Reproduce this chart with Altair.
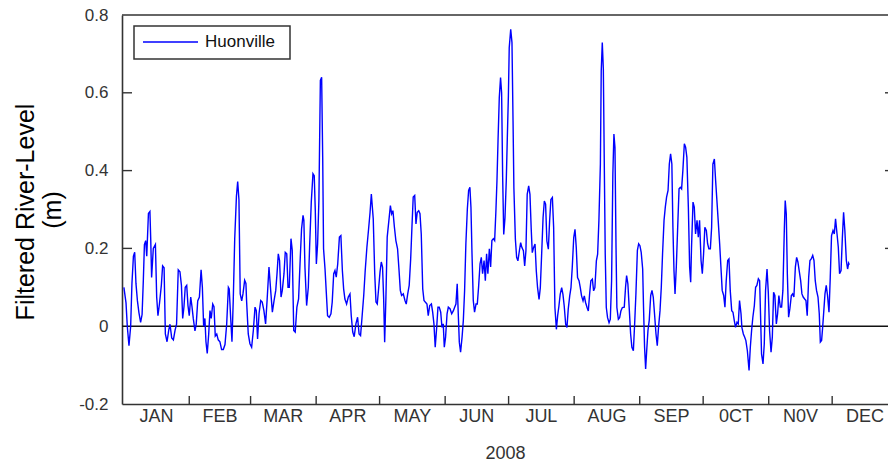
import altair as alt
import pandas as pd

# Filtered river level at Huonville, 2008 (day 0 = 1 January)
day = [
    0.1, 1.1, 1.7, 2.5, 3.3, 3.9, 4.6, 5.2, 5.8, 6.5, 7.2, 8.0, 8.7, 9.3, 9.8, 10.4, 10.9, 11.7, 12.4, 12.8,
    13.2, 14.0, 15.0, 15.6, 16.2, 16.9, 17.8, 18.4, 19.1, 19.7, 20.5, 21.3, 21.9, 22.7, 23.5, 24.3, 25.0, 25.8,
    26.6, 27.3, 27.9, 28.5, 29.1, 29.8, 30.4, 31.0, 31.7, 32.3, 32.9, 33.7, 34.3, 35.0, 35.8, 36.6, 37.2, 37.8,
    38.4, 38.9, 39.5, 40.2, 40.8, 41.4, 42.1, 42.7, 43.3, 44.0, 44.7, 45.5, 46.3, 47.1, 47.9, 48.7, 49.5, 49.9,
    50.6, 51.2, 51.8, 52.5, 53.3, 53.9, 54.5, 55.1, 55.8, 56.4, 57.2, 57.8,
    58.1, 58.9, 59.7, 60.5, 61.3, 62.1, 62.7, 63.3, 64.0, 64.8, 65.5, 66.3, 67.1, 67.8, 68.7, 69.5, 70.3, 71.1,
    71.9, 72.5, 73.1, 73.7, 74.4, 75.0, 75.8, 76.4, 77.1, 77.7, 78.3, 79.1, 79.7, 80.4, 81.1, 81.9, 82.7, 83.5,
    84.1, 84.8, 85.2, 85.7, 86.5, 87.3, 87.9, 88.7, 89.5, 90.1, 90.6, 91.1, 91.7, 92.3, 93.0, 93.6, 94.1, 94.5,
    95.2, 95.8, 96.4, 97.2, 98.0, 98.6, 99.3, 99.9, 100.5, 101.2, 102.0, 102.7, 103.4, 104.0, 104.6, 105.4,
    106.2, 107.0, 107.6, 108.3, 109.0, 109.8, 110.6, 111.3, 112.0, 112.7, 113.5, 114.2, 115.0, 115.8, 116.5,
    117.1,
    118.0, 118.7, 119.3, 119.9, 120.6, 121.2, 121.8, 122.4, 122.9, 123.4, 124.0, 124.6, 125.4, 126.1, 126.7,
    127.3, 128.0, 128.7, 129.5, 130.2, 130.8, 131.4, 132.2, 133.0, 133.6, 134.3, 135.0, 135.7, 136.3, 136.9,
    137.6, 138.2, 138.8, 139.5, 140.1, 140.7, 141.4, 142.0, 142.6, 143.4, 144.0, 144.7, 145.5, 146.1, 146.7,
    147.3, 148.0, 148.6, 149.2, 149.9, 150.5, 151.1, 151.6, 152.2, 152.9, 153.5, 154.3, 155.1, 155.9, 156.5,
    157.1, 157.7, 158.2, 158.7, 159.3, 160.0, 160.6, 161.2, 161.8, 162.5, 163.1, 163.7, 164.2, 164.7, 165.3,
    165.9, 166.6, 167.2, 167.8, 168.5, 169.1, 169.7, 170.4, 171.0, 171.6, 172.2, 172.9, 173.5, 174.1, 174.8,
    175.4, 176.0,
    176.5, 177.0, 177.6, 178.2, 178.7, 179.2, 179.7, 180.3, 180.9, 181.4, 181.9, 182.3, 183.0, 183.6, 184.1,
    184.5, 185.2, 185.8, 186.4, 187.1, 187.7, 188.3, 189.0, 189.6, 190.2, 190.8, 191.5, 192.1, 192.7, 193.2,
    193.8, 194.5, 195.1, 195.7, 196.4, 197.0, 197.6, 198.3, 198.9, 199.5, 200.1, 200.8, 201.4, 202.0, 202.7,
    203.3, 203.9, 204.6, 205.2, 205.8, 206.4, 207.1, 207.7, 208.3, 209.0, 209.6, 210.2, 210.9, 211.5, 212.1,
    212.8, 213.4, 214.0, 214.6, 215.3, 215.9, 216.5, 217.2, 217.8, 218.4, 219.1, 219.7, 220.3, 220.9, 221.6,
    222.2, 222.8, 223.5, 224.1, 224.7, 225.4, 225.8, 226.3, 226.8, 227.2, 227.7, 228.2, 228.8, 229.5, 230.1,
    230.7, 231.3, 231.8, 232.3, 232.8, 233.2, 233.9, 234.5, 235.1, 235.8,
    236.7, 237.3, 237.8, 238.4, 239.1, 239.7, 240.3, 241.0, 241.6, 242.2, 242.9, 243.5, 244.1, 244.7, 245.4,
    245.8, 246.3, 246.8, 247.3, 247.9, 248.5, 249.2, 249.8, 250.4, 251.0, 251.7, 252.3, 252.9, 253.6, 254.2,
    254.8, 255.5, 256.1, 256.7, 257.4, 258.0, 258.6, 259.2, 259.7, 260.2, 260.7, 261.3, 261.9, 262.6, 263.2,
    263.8, 264.4, 265.1, 265.7, 266.3, 267.0, 267.6, 268.1, 268.5, 269.2, 269.8, 270.4, 271.1, 271.7, 272.3,
    273.0, 273.6, 274.2, 274.8, 275.5, 276.1, 276.7, 277.4, 278.0, 278.6, 279.3, 279.9, 280.5, 281.1, 281.8,
    282.4, 283.0, 283.7, 284.3, 284.9, 285.6, 286.2, 286.8, 287.5, 288.1, 288.7, 289.3, 290.0, 290.6, 291.2,
    291.9, 292.3, 293.0, 293.6, 294.2, 294.9,
    295.7, 296.3, 296.9, 297.5, 298.2, 298.8, 299.4, 300.1, 300.7, 301.2, 301.6, 302.3, 302.9, 303.5, 304.2,
    304.8, 305.4, 306.1, 306.7, 307.3, 307.9, 308.6, 309.2, 309.8, 310.5, 311.1, 311.7, 312.4, 312.8, 313.3,
    313.8, 314.4, 315.0, 315.7, 316.3, 316.9, 317.6, 318.2, 318.8, 319.4, 320.1, 320.7, 321.3, 322.0, 322.6,
    323.2, 323.9, 324.5, 325.1, 325.8, 326.4, 327.0, 327.6, 328.3, 328.9, 329.4, 330.0, 330.5, 331.0, 331.6,
    332.2, 332.8, 333.5, 334.1, 334.7, 335.4, 336.0, 336.6, 337.3, 337.9, 338.5, 339.2, 339.8, 340.4, 341.0,
    341.7, 342.3, 342.8, 343.1,
]
level = [
    0.10, 0.06, 0.0, -0.05, 0.0, 0.11, 0.18, 0.19, 0.11, 0.065, 0.035, 0.01, 0.03, 0.12, 0.21, 0.22, 0.18, 0.29, 0.295, 0.22,
    0.125, 0.20, 0.21, 0.075, 0.027, 0.057, 0.105, 0.155, 0.15, -0.02, -0.04, -0.01, 0.005, -0.03, -0.035, -0.01, 0.005, 0.145,
    0.14, 0.105, 0.02, 0.05, 0.10, 0.105, 0.053, 0.027, 0.075, 0.05, 0.02, -0.012, 0.005, 0.065, 0.075, 0.145, 0.10, 0.0,
    0.02, -0.04, -0.07, -0.02, 0.04, 0.02, 0.057, 0.05, -0.025, -0.02, -0.035, -0.04, -0.06, -0.06, -0.047, 0.005, 0.10, 0.096,
    0.02, -0.04, 0.065, 0.225, 0.333, 0.372, 0.325, 0.083, 0.065, 0.083, 0.118, 0.11,
    0.066, -0.02, -0.045, -0.054, -0.011, 0.049, 0.04, -0.033, 0.032, 0.066, 0.062, 0.04, 0.006, 0.066, 0.152, 0.092, 0.036, 0.066,
    0.092, 0.135, 0.186, 0.169, 0.075, 0.092, 0.135, 0.19, 0.186, 0.10, 0.10, 0.225, 0.195, -0.011, -0.015, 0.049, 0.07, 0.177,
    0.25, 0.285, 0.272, 0.152, 0.053, 0.10, 0.203, 0.319, 0.392, 0.387, 0.297, 0.16, 0.212, 0.323, 0.632, 0.64, 0.434, 0.199,
    0.147, 0.087, 0.027, 0.023, 0.032, 0.062, 0.135, 0.143, 0.126, 0.16, 0.229, 0.233, 0.143, 0.096, 0.07, 0.057,
    0.075, 0.083, 0.027, -0.015, -0.027, 0.006, 0.023, -0.02, -0.024, 0.023, 0.079, 0.143, 0.203, 0.25, 0.293,
    0.34,
    0.276, 0.135, 0.062, 0.057, 0.10, 0.139, 0.165, 0.152, 0.075, -0.041, 0.075, 0.229, 0.272, 0.31, 0.289,
    0.297, 0.255, 0.22, 0.199, 0.143, 0.092, 0.079, 0.083, 0.066, 0.057, 0.083, 0.105, 0.173, 0.255, 0.332,
    0.336, 0.263, 0.293, 0.297, 0.289, 0.237, 0.096, 0.066, 0.062, 0.057, 0.027, 0.053, 0.057, 0.036, 0.006,
    -0.054, -0.003, 0.049, 0.049, 0.036, -0.003, 0.006, -0.054, -0.028, 0.032, 0.049, 0.045, 0.032, 0.04, 0.049,
    0.057, 0.109, 0.032, -0.041, -0.067, -0.028, 0.015, 0.092, 0.212, 0.302, 0.349, 0.357, 0.306, 0.186, 0.066,
    0.036, 0.057, 0.057, 0.10, 0.16, 0.177, 0.135, 0.169, 0.117, 0.186, 0.135, 0.199, 0.152, 0.22, 0.225,
    0.22, 0.296,
    0.374, 0.476, 0.588, 0.639, 0.60, 0.382, 0.236, 0.279, 0.374, 0.485, 0.592, 0.716, 0.763, 0.729, 0.528,
    0.356, 0.224, 0.177, 0.168, 0.194, 0.215, 0.202, 0.194, 0.155, 0.194, 0.339, 0.361, 0.339, 0.249, 0.189,
    0.202, 0.211, 0.142, 0.099, 0.069, 0.099, 0.181, 0.279, 0.322, 0.314, 0.219, 0.198, 0.271, 0.326, 0.331,
    0.254, 0.048, -0.008, 0.027, 0.052, 0.082, 0.099, 0.082, 0.052, 0.005, -0.003, 0.044, 0.078, 0.099, 0.151,
    0.228, 0.249, 0.202, 0.125, 0.117, 0.099, 0.078, 0.065, 0.078, 0.061, 0.048, 0.039, 0.082, 0.117, 0.121,
    0.091, 0.099, 0.168, 0.185, 0.271, 0.416, 0.656, 0.729, 0.661, 0.442, 0.185, 0.048, 0.022, 0.009, 0.018,
    0.117, 0.391, 0.494, 0.459, 0.202, 0.048, 0.018, 0.022, 0.039, 0.048,
    0.049, 0.10, 0.13, 0.109, 0.04, -0.02, -0.054, -0.063, 0.006, 0.083, 0.195, 0.212, 0.207, 0.19, 0.147,
    0.049, -0.054, -0.11, -0.063, -0.011, 0.015, 0.079, 0.092, 0.075, 0.032, -0.02, -0.05, -0.003, 0.04, 0.10,
    0.186, 0.272, 0.306, 0.332, 0.349, 0.417, 0.443, 0.417, 0.254, 0.143, 0.083, 0.152, 0.246, 0.353, 0.357,
    0.353, 0.40, 0.469, 0.46, 0.434, 0.306, 0.152, 0.113, 0.203, 0.319, 0.306, 0.237, 0.272, 0.229, 0.272,
    0.169, 0.135, 0.186, 0.254, 0.246, 0.212, 0.199, 0.199, 0.254, 0.417, 0.43, 0.374, 0.323, 0.272, 0.212,
    0.152, 0.092, 0.079, 0.049, 0.117, 0.169, 0.173, 0.092, 0.04, 0.036, 0.015, -0.003, 0.01, 0.006, 0.066,
    0.032, -0.003, -0.02, -0.028, -0.037, -0.063,
    -0.114, -0.054, -0.011, 0.023, 0.053, 0.10, 0.105, 0.122, 0.117, 0.015, -0.071, -0.097, -0.045, 0.092, 0.147,
    0.087, -0.011, -0.067, -0.028, 0.087, 0.079, 0.006, 0.032, 0.079, 0.049, 0.049, 0.092, 0.254, 0.323, 0.289,
    0.135, 0.023, 0.045, 0.079, 0.083, 0.075, 0.152, 0.177, 0.165, 0.143, 0.117, 0.083, 0.075, 0.07, 0.066,
    0.027, 0.126, 0.169, 0.173, 0.182, 0.169, 0.117, 0.092, 0.075, 0.032, -0.041, -0.037, -0.003, 0.036, 0.083,
    0.105, 0.079, 0.036, 0.126, 0.233, 0.246, 0.237, 0.276, 0.237, 0.203, 0.135, 0.143, 0.225, 0.293, 0.246,
    0.169, 0.147, 0.162, 0.158,
]

# Month labels and month boundaries (day of year)
month_names = ["JAN", "FEB", "MAR", "APR", "MAY", "JUN", "JUL", "AUG", "SEP", "0CT", "N0V", "DEC"]
month_start = [0, 31, 60, 91, 121, 152, 182, 213, 244, 274, 305, 335, 366]
y_tick_values = [-0.2, 0.0, 0.2, 0.4, 0.6, 0.8]
inner_ticks = [0.2, 0.4, 0.6]
series_name = "Huonville"

W, H = 766, 389
FONT = "Liberation Sans"
INK = "#333333"

series = pd.DataFrame({"day": day, "level": level})
months = pd.DataFrame({
    "mid": [(a + b) / 2 for a, b in zip(month_start[:-1], month_start[1:])],
    "name": month_names,
})
bounds = pd.DataFrame({"day": month_start[1:12]})
ticks = pd.DataFrame({"level": inner_ticks})
one = pd.DataFrame({"level": [0.0]})

x_scale = alt.Scale(domain=[-0.8, 361.4], nice=False, zero=False)
y_scale = alt.Scale(domain=[-0.2, 0.8], nice=False, zero=False)

label_expr = ("datum.value == 0 ? '0' : (datum.value < 0 ? '-' + format(-datum.value, '.1f')"
              " : format(datum.value, '.1f'))")

line = alt.Chart(series).mark_line(color="#0000ff", strokeWidth=1.4, clip=True).encode(
    x=alt.X("day:Q", scale=x_scale,
            axis=alt.Axis(title="2008", labels=False, ticks=False, grid=False,
                          domainColor=INK, domainWidth=1.6, titleFont=FONT,
                          titleFontSize=18, titleFontWeight="normal", titleColor=INK,
                          titlePadding=40)),
    y=alt.Y("level:Q", scale=y_scale,
            axis=alt.Axis(values=y_tick_values, labelExpr=label_expr, ticks=False, grid=False,
                          domainColor=INK, domainWidth=1.6, labelFont=FONT, labelFontSize=17,
                          labelColor=INK, labelPadding=14, title=None)),
)

zero_line = alt.Chart(one).mark_rule(color="#111111", strokeWidth=1.4).encode(
    y=alt.Y("level:Q", scale=y_scale), x=alt.value(0), x2=alt.value(W)
)
top_line = alt.Chart(one).mark_rule(color=INK, strokeWidth=1.6).encode(
    y=alt.value(0), x=alt.value(0), x2=alt.value(W)
)
left_ticks = alt.Chart(ticks).mark_rule(color=INK, strokeWidth=1.4).encode(
    y=alt.Y("level:Q", scale=y_scale), x=alt.value(0), x2=alt.value(10)
)
right_ticks = alt.Chart(ticks).mark_rule(color=INK, strokeWidth=1.4).encode(
    y=alt.Y("level:Q", scale=y_scale), x=alt.value(W - 3), x2=alt.value(W)
)
month_ticks = alt.Chart(bounds).mark_rule(color=INK, strokeWidth=1.4).encode(
    x=alt.X("day:Q", scale=x_scale), y=alt.value(H - 8), y2=alt.value(H)
)
month_labels = alt.Chart(months).mark_text(
    font=FONT, fontSize=18, color=INK, baseline="middle", align="center"
).encode(x=alt.X("mid:Q", scale=x_scale), y=alt.value(H + 13), text="name:N")

# Y-axis title, two lines
ytitle1 = alt.Chart(one).mark_text(
    font=FONT, fontSize=25, color="#000000", angle=270, align="center", baseline="middle"
).encode(x=alt.value(-96), y=alt.value(197), text=alt.value("Filtered River-Level"))
ytitle2 = alt.Chart(one).mark_text(
    font=FONT, fontSize=25, color="#000000", angle=270, align="center", baseline="middle"
).encode(x=alt.value(-69), y=alt.value(195), text=alt.value("(m)"))

# Legend box
legend_box = alt.Chart(one).mark_rect(fill="white", stroke=INK, strokeWidth=1.5).encode(
    x=alt.value(12), x2=alt.value(168), y=alt.value(11), y2=alt.value(44)
)
legend_line = alt.Chart(one).mark_rule(color="#0000ff", strokeWidth=1.4).encode(
    x=alt.value(21), x2=alt.value(76), y=alt.value(27)
)
legend_text = alt.Chart(one).mark_text(
    font=FONT, fontSize=17, color="#111111", align="left", baseline="middle"
).encode(x=alt.value(83), y=alt.value(27), text=alt.value(series_name))

chart = alt.layer(
    zero_line, line, top_line, left_ticks, right_ticks, month_ticks, month_labels,
    ytitle1, ytitle2, legend_box, legend_line, legend_text,
).properties(
    width=W, height=H,
    padding={"left": 122, "top": 15, "right": 0, "bottom": 59},
    autosize=alt.AutoSizeParams(type="none"),
    background="white",
).configure_view(stroke=None)

chart.save("out.html", embed_options={"renderer": "svg", "actions": False})
